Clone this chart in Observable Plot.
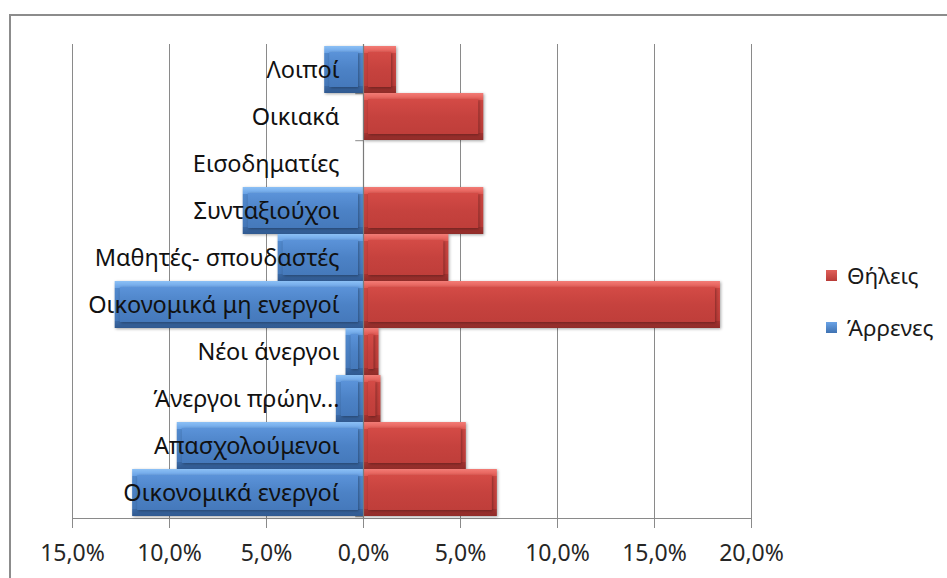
<!DOCTYPE html>
<html>
<head>
<meta charset="utf-8">
<script src="https://cdn.jsdelivr.net/npm/d3@7"></script>
<script src="https://cdn.jsdelivr.net/npm/@observablehq/plot@0.6"></script>
<style>
  html, body { margin: 0; padding: 0; background: #fff; overflow: hidden; }
  #wrap { position: relative; width: 947px; height: 578px; font-family: "Noto Sans", sans-serif; }
  #border { position: absolute; left: 9px; top: 14px; width: 980px; height: 620px; border: 2px solid #8c8c8c; box-sizing: border-box; }
  #chart { position: absolute; left: 0; top: 0; }
  #legend { position: absolute; left: 826px; top: 262px; font-size: 22.5px; color: #1a1a1a; }
  .item { display: flex; align-items: center; height: 26px; margin-bottom: 26px; }
  .sw { width: 11px; height: 11px; margin-right: 10px; }
  svg g[aria-label="bar"] { filter: drop-shadow(1.5px 1.5px 1.5px rgba(0,0,0,0.35)); }
</style>
</head>
<body>
<div id="wrap">
  <div id="border"></div>
  <div id="chart"></div>
  <div id="legend"></div>
</div>
<script>
const categories = [
  "Λοιποί",
  "Οικιακά",
  "Εισοδηματίες",
  "Συνταξιούχοι",
  "Μαθητές- σπουδαστές",
  "Οικονομικά μη ενεργοί",
  "Νέοι άνεργοι",
  "Άνεργοι πρώην...",
  "Απασχολούμενοι",
  "Οικονομικά ενεργοί"
];
const males =   [2.0, 0.0, 0.0, 6.2, 4.4, 12.8, 0.9, 1.4, 9.6, 11.9];
const females = [1.7, 6.2, 0.0, 6.2, 4.4, 18.4, 0.8, 0.9, 5.3, 6.9];
const seriesNames = ["Θήλεις", "Άρρενες"];
const xTicks = [-15, -10, -5, 0, 5, 10, 15, 20];

const fmt = d => Math.abs(d).toFixed(1).replace(".", ",") + "%";

const rows = [];
categories.forEach((c, i) => {
  if (males[i] > 0) rows.push({cat: c, value: -males[i], sex: "Άρρενες"});
  if (females[i] > 0) rows.push({cat: c, value: females[i], sex: "Θήλεις"});
});
const fillFor = s => s === "Άρρενες" ? "url(#edgeBlue)" : "url(#edgeRed)";
const innerFor = s => s === "Άρρενες" ? "url(#faceBlue)" : "url(#faceRed)";

const chart = Plot.plot({
  width: 947,
  height: 578,
  marginLeft: 72,
  marginRight: 196,
  marginTop: 44,
  marginBottom: 60,
  style: {fontFamily: "Noto Sans, sans-serif", background: "transparent"},
  x: {domain: [-15, 20], label: null},
  y: {domain: categories, padding: 0, axis: null},
  marks: [
    Plot.ruleX(xTicks, {stroke: "#8a8a8a", strokeWidth: 1}),
    Plot.frame({anchor: "bottom", stroke: "#8a8a8a"}),
    Plot.axisX({ticks: xTicks, tickFormat: fmt, tickSize: 10, tickPadding: 16, fontSize: 23, stroke: "#8a8a8a", fill: "#262626", label: null}),
    Plot.ruleY(categories, {y: d => d, x1: -0.4, x2: 0, stroke: "#8a8a8a", dy: 23.7}),
    Plot.barX(rows, {x1: 0, x2: "value", y: "cat", fill: d => fillFor(d.sex)}),
    Plot.barX(rows, {x1: 0, x2: "value", y: "cat", fill: d => innerFor(d.sex), insetTop: 6, insetBottom: 6, insetLeft: 5, insetRight: 5}),
    Plot.ruleX([0], {stroke: "#7a7a7a", strokeWidth: 1.2}),
    Plot.text(categories, {x: 0, y: d => d, text: d => d, textAnchor: "end", dx: -24, fontSize: 23.5, fill: "#111"})
  ]
});

// gradients for the bevelled look
const ns = "http://www.w3.org/2000/svg";
const defs = document.createElementNS(ns, "defs");
function grad(id, stops) {
  const g = document.createElementNS(ns, "linearGradient");
  g.setAttribute("id", id);
  g.setAttribute("x1", "0"); g.setAttribute("y1", "0");
  g.setAttribute("x2", "0"); g.setAttribute("y2", "1");
  stops.forEach(([o, c]) => {
    const s = document.createElementNS(ns, "stop");
    s.setAttribute("offset", o); s.setAttribute("stop-color", c);
    g.appendChild(s);
  });
  defs.appendChild(g);
}
grad("edgeBlue", [["0", "#8cc0f5"], ["0.14", "#6aa3e6"], ["0.16", "#5088cc"], ["0.84", "#4477b8"], ["0.86", "#3a68a4"], ["1", "#30598f"]]);
grad("faceBlue", [["0", "#5b93d9"], ["0.5", "#4c82c6"], ["1", "#4579bb"]]);
grad("edgeRed", [["0", "#f27c76"], ["0.14", "#e25a54"], ["0.16", "#cc4641"], ["0.84", "#bb3c38"], ["0.86", "#a43330"], ["1", "#8f2c29"]]);
grad("faceRed", [["0", "#d44b46"], ["0.5", "#c6423e"], ["1", "#bf3e3a"]]);
chart.insertBefore(defs, chart.firstChild);

document.getElementById("chart").appendChild(chart);

// legend
const legend = document.getElementById("legend");
const swatch = {"Θήλεις": "linear-gradient(#e0605a, #b83b37)", "Άρρενες": "linear-gradient(#6aa3e6, #3f72b2)"};
seriesNames.forEach(n => {
  const it = document.createElement("div");
  it.className = "item";
  const sw = document.createElement("div");
  sw.className = "sw";
  sw.style.background = swatch[n];
  const t = document.createElement("span");
  t.textContent = n;
  it.appendChild(sw); it.appendChild(t);
  legend.appendChild(it);
});
</script>
</body>
</html>
